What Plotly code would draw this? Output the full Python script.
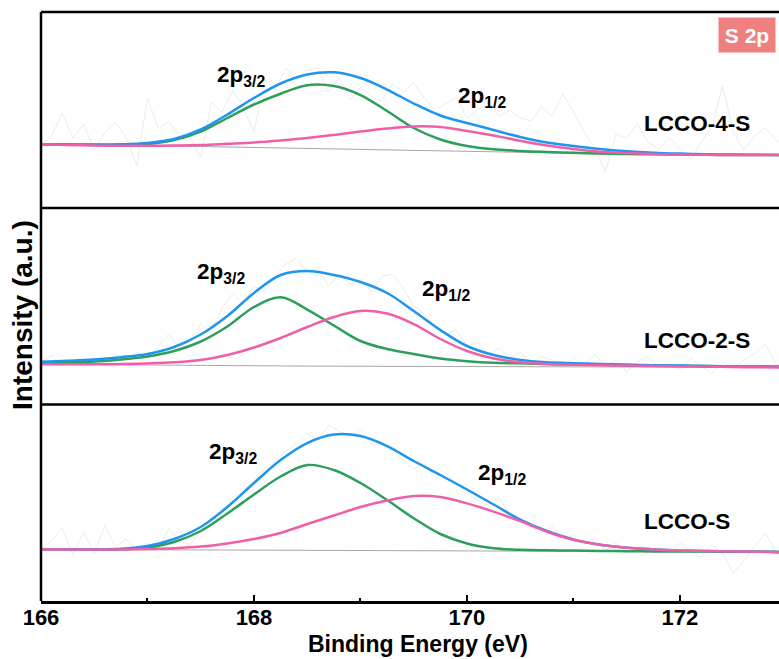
import plotly.graph_objects as go

# ---------------- data ----------------
E_GRID = [166.0, 166.25, 166.5, 166.75, 167.0, 167.25, 167.5, 167.75, 168.0, 168.25,
          168.5, 168.75, 169.0, 169.25, 169.5, 169.75, 170.0, 170.25, 170.5, 170.75,
          171.0, 171.25, 171.5, 171.75, 172.0, 172.25, 172.5, 172.75, 173.0]

# LCCO-4-S (top)
green_top = [63.7, 63.5, 63.2, 63.0, 64.0, 68.0, 76.5, 90.0, 103.5, 114.3, 122.8, 122.0, 113.0, 97.0, 80.0,
             68.5, 62.0, 58.7, 57.0, 56.0, 55.2, 54.5, 54.0, 53.7, 53.5, 53.2, 53.0, 53.0, 53.0]
blue_top = [63.7, 63.6, 63.5, 63.7, 65.0, 69.0, 78.5, 93.5, 110.0, 124.5, 133.5, 135.7, 130.0, 118.5, 104.5,
            92.5, 85.0, 78.0, 71.0, 65.5, 62.0, 59.0, 56.8, 55.3, 54.4, 53.8, 53.4, 53.2, 53.0]
pink_top = [63.7, 63.0, 62.5, 62.2, 62.2, 62.5, 63.0, 64.2, 65.5, 67.5, 70.0, 73.0, 76.5, 79.5, 81.5,
            81.0, 77.0, 72.5, 67.2, 62.5, 59.0, 56.3, 55.0, 54.0, 53.5, 53.2, 53.0, 53.0, 53.0]
base_top = [63.5, 63.3, 63.0, 62.7, 62.4, 62.0, 61.5, 61.0, 60.5, 60.0, 59.5, 59.1, 58.7, 58.3, 57.8,
            57.2, 56.5, 55.9, 55.3, 54.8, 54.4, 54.0, 53.8, 53.6, 53.4, 53.2, 53.1, 53.0, 53.0]

# LCCO-2-S (middle)
green_mid = [40.7, 41.5, 42.5, 44.5, 47.5, 53.0, 62.5, 77.5, 97.0, 106.7, 94.5, 78.5, 63.0, 55.0, 50.0,
             45.5, 42.8, 41.2, 40.7, 40.0, 39.6, 39.2, 38.8, 38.5, 38.2, 38.0, 37.7, 37.5, 37.3]
blue_mid = [42.3, 43.2, 44.5, 46.8, 50.0, 57.0, 69.5, 88.0, 111.0, 129.0, 133.0, 129.0, 122.0, 111.0, 93.0,
            74.0, 58.0, 49.0, 44.0, 41.7, 40.8, 40.0, 39.4, 38.8, 38.4, 38.0, 37.7, 37.5, 37.3]
pink_mid = [39.7, 39.7, 39.7, 40.0, 40.6, 41.7, 44.0, 49.0, 56.5, 66.0, 77.0, 87.0, 93.0, 90.5, 80.0,
            65.0, 53.0, 45.5, 41.7, 40.0, 39.3, 38.8, 38.4, 38.0, 37.6, 37.3, 37.0, 36.7, 36.3]
base_mid = [39.7, 39.6, 39.5, 39.3, 39.1, 38.9, 38.7, 38.5, 38.3, 38.1, 37.9, 37.8, 37.7, 37.6, 37.5,
            37.4, 37.3, 37.2, 37.1, 37.0, 37.0, 36.9, 36.9, 36.8, 36.8, 36.7, 36.7, 36.6, 36.6]

# LCCO-S (bottom)
green_bot = [51.7, 51.7, 51.5, 51.7, 53.5, 59.0, 70.0, 87.5, 106.5, 124.5, 136.0, 131.0, 118.0, 101.0, 82.7,
             67.0, 57.5, 52.7, 51.2, 50.7, 50.4, 50.0, 49.8, 49.6, 49.5, 49.4, 49.3, 49.2, 49.1]
blue_bot = [51.7, 51.7, 51.7, 52.2, 55.0, 62.0, 74.0, 94.0, 118.0, 141.0, 158.0, 166.5, 165.0, 155.0, 140.0,
            126.0, 111.5, 96.5, 81.5, 70.0, 61.5, 56.2, 53.2, 51.6, 50.6, 50.0, 49.6, 49.2, 48.7]
pink_bot = [51.7, 51.5, 51.4, 51.5, 52.0, 52.8, 54.4, 57.6, 62.0, 68.0, 77.0, 85.5, 94.0, 100.5, 105.0,
            104.0, 97.6, 89.4, 79.8, 69.3, 61.2, 56.2, 53.2, 51.6, 50.6, 50.0, 49.6, 49.2, 48.7]
base_bot = [51.5, 51.5, 51.4, 51.4, 51.3, 51.2, 51.1, 51.0, 50.9, 50.8, 50.7, 50.6, 50.5, 50.4, 50.3,
            50.2, 50.1, 50.0, 49.9, 49.8, 49.7, 49.6, 49.5, 49.4, 49.3, 49.2, 49.1, 49.0, 48.9]

# raw spectra (faint grey)
E_RAW = [166.0, 166.1, 166.2, 166.3, 166.4, 166.5, 166.6, 166.7, 166.8, 166.9,
         167.0, 167.1, 167.2, 167.3, 167.4, 167.5, 167.6, 167.7, 167.8, 167.9,
         168.0, 168.1, 168.2, 168.3, 168.4, 168.5, 168.6, 168.7, 168.8, 168.9,
         169.0, 169.1, 169.2, 169.3, 169.4, 169.5, 169.6, 169.7, 169.8, 169.9,
         170.0, 170.1, 170.2, 170.3, 170.4, 170.5, 170.6, 170.7, 170.8, 170.9,
         171.0, 171.1, 171.2, 171.3, 171.4, 171.5, 171.6, 171.7, 171.8, 171.9,
         172.0, 172.1, 172.2, 172.3, 172.4, 172.5, 172.6, 172.7, 172.8, 172.9, 173.0]
raw_top = [63, 72, 95, 70, 84, 58, 75, 86, 70, 42,
           110, 80, 86, 72, 70, 50, 106, 96, 118, 100,
           76, 128, 118, 140, 128, 138, 140, 116, 130, 108,
           121, 112, 107, 124, 116, 125, 110, 98, 104, 111,
           90, 98, 105, 92, 98, 90, 87, 101, 92, 114,
           96, 76, 60, 36, 74, 70, 84, 66, 59, 70,
           60, 48, 66, 82, 122, 76, 58, 72, 80, 68, 62]
raw_mid = [42, 48, 38, 44, 36, 46, 40, 50, 44, 52,
           46, 58, 70, 56, 64, 80, 72, 96, 110, 100,
           118, 112, 128, 140, 146, 132, 136, 118, 130, 120,
           124, 112, 128, 130, 116, 98, 90, 78, 70, 74,
           58, 62, 50, 56, 46, 52, 40, 48, 44, 36,
           46, 40, 50, 38, 44, 32, 42, 48, 36, 40,
           34, 46, 38, 30, 42, 36, 44, 50, 60, 40, 38]
raw_bot = [52, 60, 73, 46, 69, 47, 76, 54, 62, 50,
           58, 52, 72, 60, 56, 70, 84, 80, 104, 110,
           120, 132, 140, 150, 158, 168, 160, 176, 170, 164,
           172, 156, 160, 150, 140, 132, 138, 122, 128, 118,
           108, 100, 96, 104, 86, 80, 74, 68, 76, 60,
           66, 56, 64, 50, 58, 48, 56, 46, 54, 48,
           58, 50, 44, 56, 48, 28, 40, 54, 68, 50, 46]

X_TICKS = [166, 168, 170, 172]
X_MINOR = [167, 169, 171]
SAMPLE_LABELS = ["LCCO-4-S", "LCCO-2-S", "LCCO-S"]
PEAK_LABELS = ["2p<sub>3/2</sub>", "2p<sub>1/2</sub>"]

# ---------------- styling ----------------
FONT = "Liberation Sans, Arial, sans-serif"
C_GREEN = "#2E9F5B"
C_BLUE = "#1E96EE"
C_PINK = "#EE5FA8"
C_RAW = "#ECECEC"
C_BASE = "#A8A8A8"

panels = [
    (raw_top, base_top, green_top, blue_top, pink_top, "x", "y"),
    (raw_mid, base_mid, green_mid, blue_mid, pink_mid, "x2", "y2"),
    (raw_bot, base_bot, green_bot, blue_bot, pink_bot, "x3", "y3"),
]

fig = go.Figure()
for raw, base, g, b, p, xa, ya in panels:
    fig.add_trace(go.Scatter(x=E_RAW, y=raw, mode="lines", line=dict(color=C_RAW, width=1),
                             xaxis=xa, yaxis=ya, showlegend=False))
    fig.add_trace(go.Scatter(x=E_GRID, y=base, mode="lines", line=dict(color=C_BASE, width=1),
                             xaxis=xa, yaxis=ya, showlegend=False))
    fig.add_trace(go.Scatter(x=E_GRID, y=g, mode="lines", line=dict(color=C_GREEN, width=2.5, shape="spline", smoothing=1.0),
                             xaxis=xa, yaxis=ya, showlegend=False))
    fig.add_trace(go.Scatter(x=E_GRID, y=b, mode="lines", line=dict(color=C_BLUE, width=2.5, shape="spline", smoothing=1.0),
                             xaxis=xa, yaxis=ya, showlegend=False))
    fig.add_trace(go.Scatter(x=E_GRID, y=p, mode="lines", line=dict(color=C_PINK, width=2.5, shape="spline", smoothing=1.0),
                             xaxis=xa, yaxis=ya, showlegend=False))

XR = [166, 172.93]
D_TOP = [0.6672, 1.0]
D_MID = [0.3336, 0.6672]
D_BOT = [0.0, 0.3336]

hidden_x = dict(range=XR, showticklabels=False, ticks="", showgrid=False, zeroline=False,
                showline=False, automargin=False)
hidden_y = dict(showticklabels=False, ticks="", showgrid=False, zeroline=False, showline=False,
                fixedrange=True, automargin=False)

fig.update_layout(
    width=779, height=659,
    margin=dict(l=41, r=0, t=12, b=58, autoexpand=False),
    paper_bgcolor="white", plot_bgcolor="white",
    showlegend=False,
    xaxis=dict(**hidden_x, anchor="y", matches="x3"),
    xaxis2=dict(**hidden_x, anchor="y2", matches="x3"),
    xaxis3=dict(range=XR, anchor="y3", showgrid=False, zeroline=False, automargin=False,
                showline=True, linecolor="black", linewidth=2.5,
                tickmode="array", tickvals=X_TICKS, ticktext=[str(v) for v in X_TICKS],
                ticks="inside", ticklen=6, tickwidth=2, tickcolor="black",
                minor=dict(tickvals=X_MINOR, ticks="inside", ticklen=3, tickwidth=2, tickcolor="black"),
                tickfont=dict(family=FONT, size=22, color="black", weight="bold"),
                ticklabelstandoff=-5),
    yaxis=dict(**hidden_y, domain=D_TOP, range=[0, 196], anchor="x"),
    yaxis2=dict(**hidden_y, domain=D_MID, range=[-0.5, 196], anchor="x2"),
    yaxis3=dict(**hidden_y, domain=D_BOT, range=[0, 196.5], anchor="x3"),
)

# frame lines
line_kw = dict(color="black", width=2.5)
for yv in [1.0, D_TOP[0], D_MID[0]]:
    fig.add_shape(type="line", xref="paper", yref="paper", x0=0, x1=1, y0=yv, y1=yv, line=line_kw, layer="above")
fig.add_shape(type="line", xref="paper", yref="paper", x0=0, x1=0, y0=0, y1=1, line=line_kw, layer="above")

# annotations
lab_font = dict(family=FONT, size=22.5, color="black", weight="bold")
ann = []
peak_pos = [
    ("x", "y", 167.88, 132, 170.14, 111, 171.64, 85),
    ("x2", "y2", 167.69, 131, 169.80, 114, 171.64, 64),
    ("x3", "y3", 167.80, 148, 170.33, 127, 171.64, 79),
]
for i, (xa, ya, x1, y1, x2, y2, x3, y3) in enumerate(peak_pos):
    ann.append(dict(xref=xa, yref=ya, x=x1, y=y1, text=PEAK_LABELS[0], showarrow=False, font=lab_font,
                    xanchor="center", yanchor="middle"))
    ann.append(dict(xref=xa, yref=ya, x=x2, y=y2, text=PEAK_LABELS[1], showarrow=False, font=lab_font,
                    xanchor="center", yanchor="middle"))
    ann.append(dict(xref=xa, yref=ya, x=x3, y=y3, text=SAMPLE_LABELS[i], showarrow=False, font=lab_font,
                    xanchor="left", yanchor="middle"))

ann.append(dict(xref="paper", yref="paper", x=0.9566, y=0.9610, text="S 2p", showarrow=False,
                font=dict(family=FONT, size=21, color="white", weight="bold"),
                bgcolor="#F08080", width=54, height=32, xanchor="center", yanchor="middle"))
ann.append(dict(xref="paper", yref="paper", x=0.511, y=-0.0725, text="Binding Energy (eV)", showarrow=False,
                font=dict(family=FONT, size=23, color="black", weight="bold"), xanchor="center", yanchor="middle"))
ann.append(dict(xref="paper", yref="paper", x=-0.0244, y=0.4856, text="Intensity (a.u.)", showarrow=False,
                textangle=-90, font=dict(family=FONT, size=28, color="black", weight="bold"),
                xanchor="center", yanchor="middle"))
fig.update_layout(annotations=ann)

fig.write_html("out.html",
               config={"displayModeBar": False},
               post_script="document.body.style.margin='0';document.body.style.padding='0';"
                           "document.body.style.overflow='hidden';")
